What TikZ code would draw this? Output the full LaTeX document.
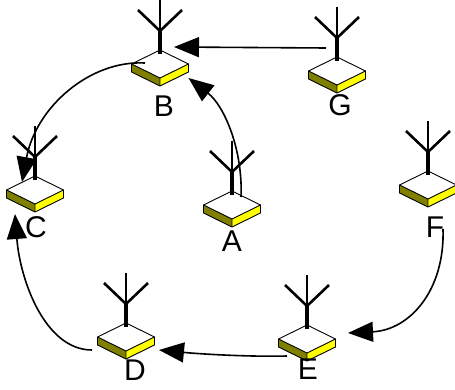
\documentclass[tikz,border=0pt]{standalone}
\usepackage{fontspec}
\setmainfont{Liberation Sans}
\usetikzlibrary{arrows.meta}
\definecolor{darkface}{RGB}{128,128,0}
\definecolor{lightface}{RGB}{255,255,0}
\tikzset{
	link/.style={line width=1.6pt,-{Triangle[length=25pt,width=20pt]}},
	letter/.style={inner sep=0pt,font=\fontsize{30}{30}\selectfont},
	station/.pic={
		\fill[darkface] (-28.5,14) -- (0,28) -- (0,36) -- (-28.5,22) -- cycle;
		\fill[lightface] (28.5,14) -- (0,28) -- (0,36) -- (28.5,22) -- cycle;
		\draw[line width=0.9pt,line join=round] (0,0) -- (28.5,14) -- (28.5,22) -- (0,36) -- (-28.5,22) -- (-28.5,14) -- cycle;
		\draw[line width=0.9pt] (-28.5,14) -- (0,28) -- (28.5,14) (0,28) -- (0,36);
		\draw[line width=3.6pt] (0,4) -- (0,-19);
		\draw[line width=2.6pt] (0,-19) -- (0,-50);
		\draw[line width=2.6pt] (-22,-40) -- (0,-19) -- (22,-40);
		\node[minimum width=57pt,minimum height=28pt,inner sep=0pt,outer sep=0pt] (-plate) at (0,14) {};
	}
}
\begin{document}
\begin{tikzpicture}[x=1pt,y=-1pt]
	\useasboundingbox (0,0) rectangle (455,390);
	\pic (stA) at (232,191) {station};
	\pic (stB) at (160,50) {station};
	\pic (stC) at (35,176) {station};
	\pic (stD) at (126,323) {station};
	\pic (stE) at (307,325) {station};
	\pic (stF) at (428,171) {station};
	\pic (stG) at (337,57) {station};
	\node[letter] (a) at (232,241) {A};
	\node[letter] (b) at (164,106) {B};
	\node[letter] (c) at (36,227) {C};
	\node[letter] (d) at (135,370) {D};
	\node[letter] (e) at (308,369) {E};
	\node[letter] (f) at (435,227) {F};
	\node[letter] (g) at (340,105) {G};
	\draw[link] ([shift={(9,-8)}]stA-plate.center) .. controls +(2,-47) and +(36,28) .. (stB-plate.south east);
	\draw[link] ([shift={(-11,-23)}]stG-plate.center) -- ([shift={(14,-17)}]stB-plate.center);
	\draw[link] ([shift={(-15,-1)}]stB-plate.center) .. controls +(-55,-3) and +(14,-75) .. ([shift={(-13,-8)}]stC-plate.center);
	\draw[link] ([shift={(-34,13)}]stD-plate.center) .. controls +(-47,0) and +(5,66) .. ([shift={(-20,24)}]stC-plate.center);
	\draw[link] ([shift={(-20,17)}]stE-plate.center) .. controls +(-37,1) and +(41,4) .. ([shift={(33,13)}]stD-plate.center);
	\draw[link] ([shift={(15,44)}]stF-plate.center) .. controls +(2,61) and +(62,-3) .. ([shift={(41,-6)}]stE-plate.center);
\end{tikzpicture}
\end{document}
